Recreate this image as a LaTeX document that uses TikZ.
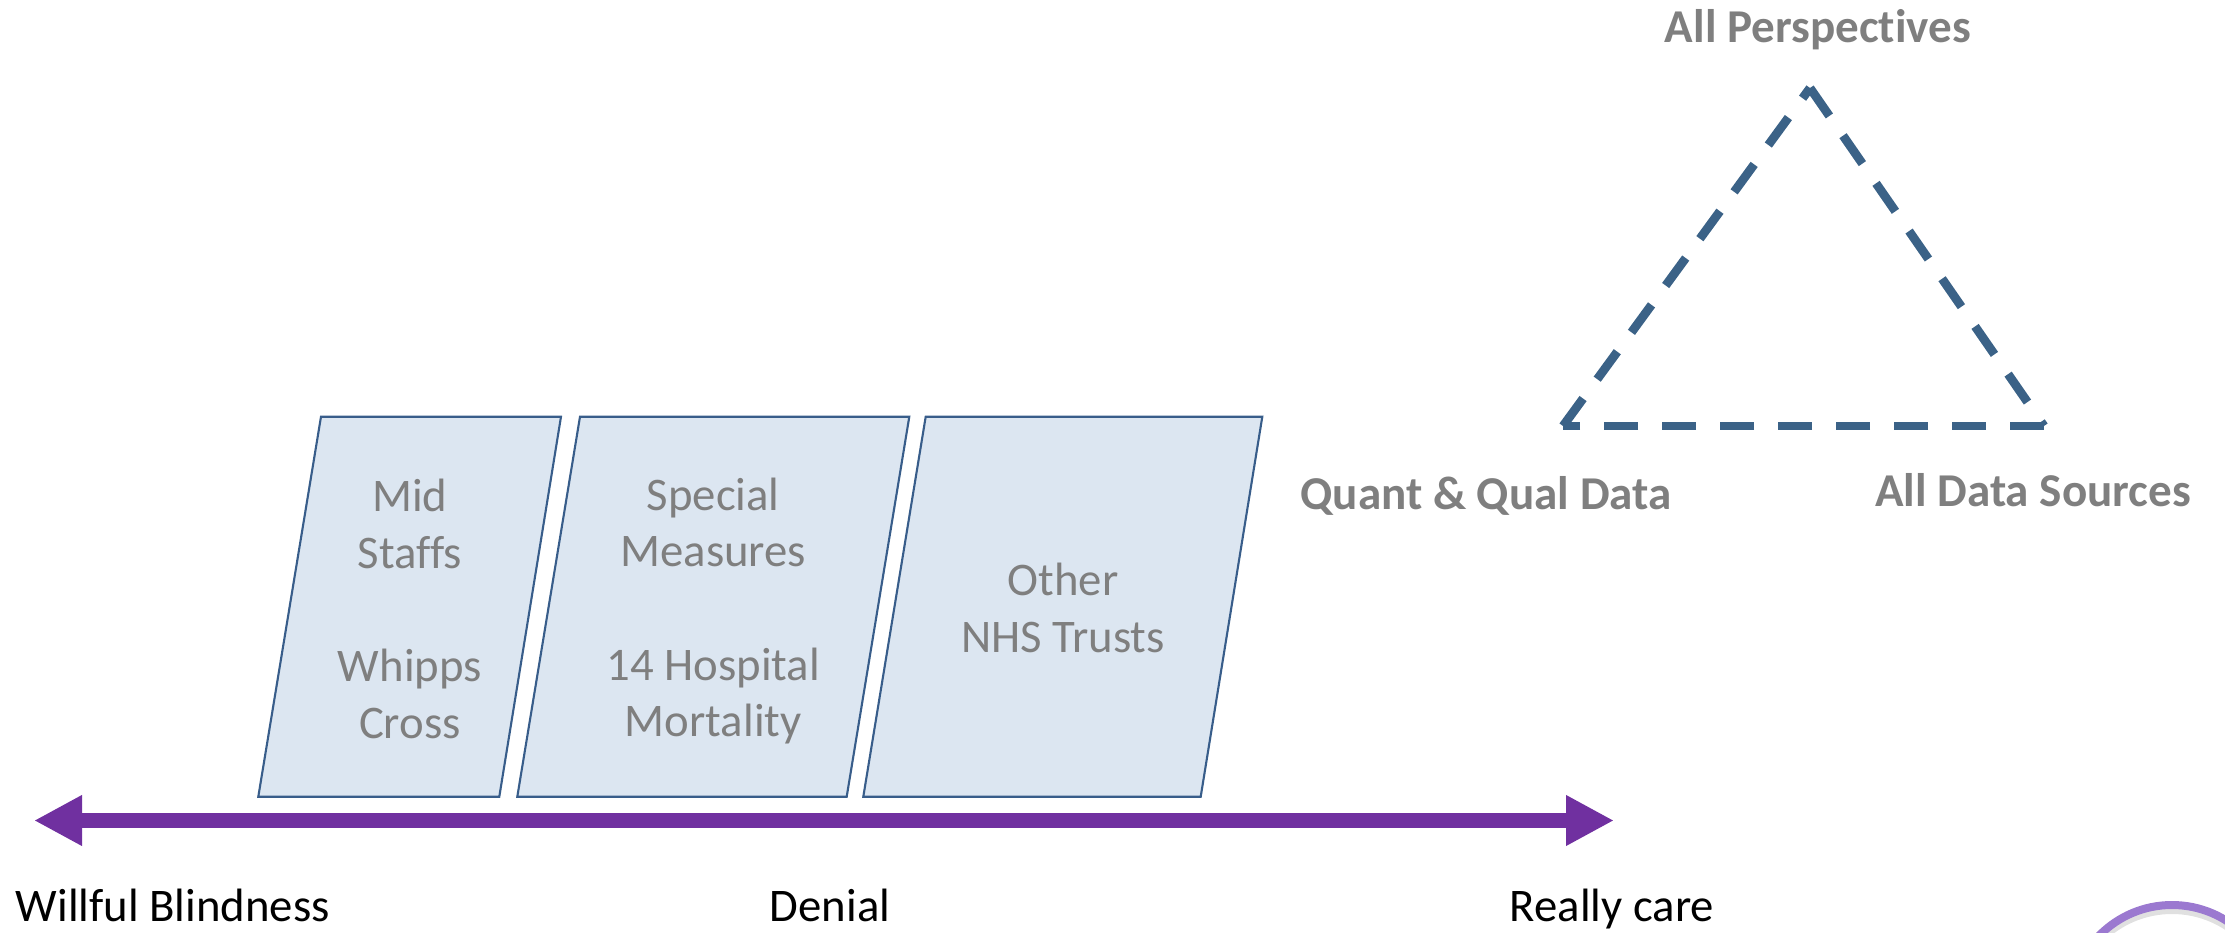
\documentclass[tikz,border=0pt]{standalone}
\usepackage{fontspec}
\setmainfont{Carlito}[Ligatures=NoCommon]
\usetikzlibrary{arrows.meta}
\definecolor{panelfill}{RGB}{220,230,241}
\definecolor{paneledge}{RGB}{56,93,138}
\definecolor{labelgray}{RGB}{127,127,127}
\definecolor{scalepurple}{RGB}{112,48,160}
\definecolor{triblue}{RGB}{59,98,135}
\definecolor{ringpurple}{RGB}{155,121,208}
\begin{document}
\begin{tikzpicture}[
    panel/.style={fill=panelfill,draw=paneledge,line width=0.6pt},
    paneltext/.style={text=labelgray,align=center,font=\fontsize{13.3}{16.1}\selectfont},
    cornerlabel/.style={text=labelgray,inner sep=0pt,anchor=base,font=\fontsize{13.4}{16}\selectfont\bfseries},
    scalelabel/.style={inner sep=0pt,anchor=base,font=\fontsize{13.3}{16}\selectfont},
    side/.style={draw=triblue,line width=2.5pt,dash pattern=on 0.34cm off 0.24cm},
    scalearrow/.style={draw=scalepurple,line width=0.156cm,
        {Triangle[length=4.8mm,width=4.73mm]}-{Triangle[length=4.8mm,width=4.73mm]}}
]
    \useasboundingbox (0,0) rectangle (22.25,9.32);
    \clip (0,0) rectangle (22.25,9.32);

    \filldraw [panel] (2.583,1.353) -- (3.21,5.153) -- (5.61,5.153) -- (4.993,1.353) -- cycle;
    \filldraw [panel] (5.173,1.353) -- (5.80,5.153) -- (9.093,5.153) -- (8.467,1.353) -- cycle;
    \filldraw [panel] (8.633,1.353) -- (9.257,5.153) -- (12.623,5.153) -- (12.007,1.353) -- cycle;

    \node (mid) at (4.099,3.232) [paneltext]{Mid\\Staffs\\[16.1pt]Whipps\\Cross};
    \node (special) at (7.133,3.21) [paneltext]{Special\\Measures\\[16.1pt]14 Hospital\\Mortality};
    \node (other) at (10.630,3.24) [paneltext]{Other\\NHS Trusts};

    \coordinate (blindend) at (0.34,1.115);
    \coordinate (careend) at (16.14,1.115);
    \draw [scalearrow] (blindend) -- (careend);

    \node (blind) at (0.15,0.103) [scalelabel,anchor=base west]{Willful Blindness};
    \node (denial) at (8.30,0.103) [scalelabel]{Denial};
    \node (care) at (16.12,0.103) [scalelabel]{Really care};

    \coordinate (apex) at (18.10,8.44);
    \coordinate (quantcorner) at (15.63,5.06);
    \coordinate (sourcecorner) at (20.44,5.06);
    \draw [side] (apex) -- (sourcecorner);
    \draw [side] (sourcecorner) -- (quantcorner);
    \draw [side] (quantcorner) -- (apex);

    \node (persp) at (18.18,8.89) [cornerlabel]{All Perspectives};
    \node (quant) at (14.86,4.22) [cornerlabel]{Quant \& Qual Data};
    \node (sources) at (20.33,4.25) [cornerlabel]{All Data Sources};

    \draw [black!12,line width=1.2mm] (21.72,-0.79) circle (1.03);
    \node (ring) at (21.72,-0.75) [circle,draw=ringpurple,line width=0.8mm,minimum size=2.04cm]{};
\end{tikzpicture}
\end{document}
